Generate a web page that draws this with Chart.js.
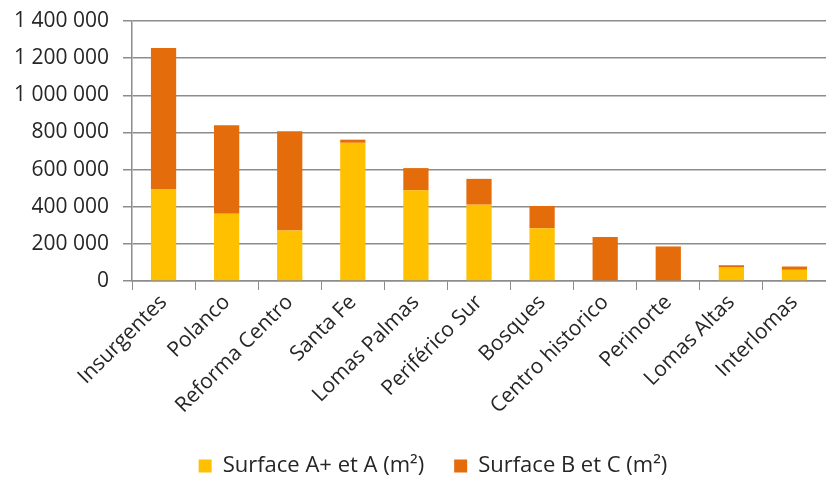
<!DOCTYPE html>
<html lang="fr">
<head>
    <meta charset="UTF-8">
    <title>Surfaces de bureaux par quartier</title>
    <script src="https://cdn.jsdelivr.net/npm/chart.js"></script>
    <style>
        body {
            margin: 0;
            padding: 0;
            background-color: #fff;
        }

        .chart-container {
            width: 826px;
            height: 484px;
            position: relative;
        }
    </style>
</head>
<body>

<div class="chart-container">
    <canvas id="mainCanvas"></canvas>
</div>

<script>
    const quartiers = ['Insurgentes', 'Polanco', 'Reforma Centro', 'Santa Fe', 'Lomas Palmas',
        'Periférico Sur', 'Bosques', 'Centro historico', 'Perinorte', 'Lomas Altas', 'Interlomas'];
    const surfaceAA = [495000, 362000, 272000, 744000, 488000, 411000, 284000, 0, 0, 72000, 60000];
    const surfaceBC = [760000, 477000, 534000, 17000, 120000, 139000, 120000, 237000, 186000, 13000, 18000];
    const yTicks = [0, 200000, 400000, 600000, 800000, 1000000, 1200000, 1400000];

    const police = "'Open Sans', sans-serif";
    const gris = '#8c8c8c';
    const texte = '#262626';

    // format "1 400 000"
    function formatNombre(v) {
        return String(v).replace(/\B(?=(\d{3})+(?!\d))/g, ' ');
    }

    // décale la légende vers la droite (centrée sous la zone de tracé)
    const decalageLegende = {
        id: 'decalageLegende',
        afterLayout(chart) {
            chart.legend.left += 20;
            chart.legend.right += 20;
        }
    };

    const ctx = document.getElementById('mainCanvas').getContext('2d');
    const chart = new Chart(ctx, {
        type: 'bar',
        data: {
            labels: quartiers,
            datasets: [
                {
                    label: 'Surface A+ et A (m²)',
                    data: surfaceAA,
                    backgroundColor: '#FFC000',
                    barPercentage: 0.8,
                    categoryPercentage: 0.5
                },
                {
                    label: 'Surface B et C (m²)',
                    data: surfaceBC,
                    backgroundColor: '#E46C0A',
                    barPercentage: 0.8,
                    categoryPercentage: 0.5
                }
            ]
        },
        plugins: [decalageLegende],
        options: {
            responsive: true,
            maintainAspectRatio: false,
            animation: false,
            layout: {
                padding: {top: 0, right: 0, bottom: -3, left: 0}
            },
            plugins: {
                tooltip: {enabled: false},
                legend: {
                    position: 'bottom',
                    labels: {
                        font: {family: police, size: 22},
                        color: texte,
                        boxWidth: 13,
                        boxHeight: 13,
                        padding: 30
                    }
                }
            },
            scales: {
                x: {
                    stacked: true,
                    grid: {
                        display: true,
                        drawOnChartArea: false,
                        offset: true,
                        color: gris,
                        tickLength: 9
                    },
                    border: {color: gris, width: 1.5},
                    ticks: {
                        font: {family: police, size: 21},
                        color: texte,
                        minRotation: 45,
                        maxRotation: 45,
                        padding: 0
                    },
                    afterFit: function (scale) {
                        scale.height = 144;
                    }
                },
                y: {
                    stacked: true,
                    min: 0,
                    max: 1400000,
                    afterBuildTicks: function (scale) {
                        scale.ticks = yTicks.map(v => ({value: v}));
                    },
                    grid: {
                        color: gris,
                        lineWidth: 1.5,
                        tickLength: 9
                    },
                    border: {color: gris, width: 1.5},
                    ticks: {
                        font: {family: police, size: 21},
                        color: texte,
                        padding: 14,
                        callback: function (value) {
                            return formatNombre(value);
                        }
                    },
                    afterFit: function (scale) {
                        scale.width = 132;
                        scale.paddingTop = 21;
                    }
                }
            }
        }
    });
</script>
</body>
</html>
